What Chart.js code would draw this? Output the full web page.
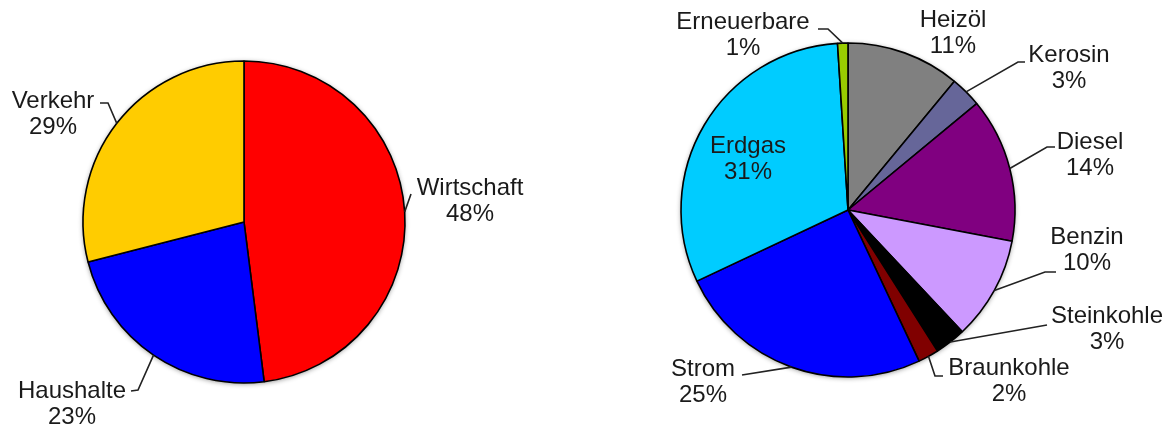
<!DOCTYPE html>
<html>
<head>
<meta charset="utf-8">
<script src="https://cdn.jsdelivr.net/npm/chart.js@4"></script>
<style>
  body { margin: 0; background: #fff; }
  canvas { position: absolute; top: 0; }
  #left { left: 0; }
  #right { left: 590px; }
</style>
</head>
<body>
<canvas id="left" width="590" height="430"></canvas>
<canvas id="right" width="585" height="430"></canvas>
<script>
// left pie: sectors
const sectors = ['Wirtschaft', 'Haushalte', 'Verkehr'];
const sectorShares = [48, 23, 29];
const sectorColors = ['#FF0000', '#0000FF', '#FFCC00'];

// right pie: energy carriers
const carriers = ['Heizöl', 'Kerosin', 'Diesel', 'Benzin', 'Steinkohle', 'Braunkohle', 'Strom', 'Erdgas', 'Erneuerbare'];
const carrierShares = [11, 3, 14, 10, 3, 2, 25, 31, 1];
const carrierColors = ['#808080', '#666699', '#800080', '#CC99FF', '#000000', '#800000', '#0000FF', '#00CCFF', '#99CC00'];

// label placement relative to the pie centre: text block centre + leader line bends
const sectorLabelPos = [
  { text: [226, -21], leader: [[167, -28]] },
  { text: [-172, 182], leader: [[-106, 168], [-113, 169]] },
  { text: [-191, -108], leader: [[-136, -119], [-144, -119]] }
];
const carrierLabelPos = [
  { text: [105, -177] },
  { text: [221, -142], leader: [[170, -148], [177, -148]] },
  { text: [242, -55], leader: [[199, -63], [207, -63]] },
  { text: [239, 40], leader: [[197, 62], [208, 62]] },
  { text: [259, 119], leader: [[199, 115]] },
  { text: [161, 171], leader: [[87, 166], [95, 166]] },
  { text: [-145, 172], leader: [[-106, 165]] },
  { text: [-100, -51] },
  { text: [-105, -175], leader: [[-20, -181], [-30, -181]] }
];

// soft shadow behind the pie, like the original
const pieShadow = {
  id: 'pieShadow',
  beforeDatasetsDraw(chart) {
    const arc = chart.getDatasetMeta(0).data[0];
    const ctx = chart.ctx;
    ctx.save();
    ctx.shadowColor = 'rgba(0,0,0,0.45)';
    ctx.shadowBlur = 5;
    ctx.shadowOffsetY = 1;
    ctx.beginPath();
    ctx.arc(arc.x, arc.y, arc.outerRadius, 0, Math.PI * 2);
    ctx.fillStyle = '#fff';
    ctx.fill();
    ctx.restore();
  }
};

const callouts = {
  id: 'callouts',
  afterDatasetsDraw(chart, args, opts) {
    const ctx = chart.ctx;
    const meta = chart.getDatasetMeta(0);
    const names = chart.data.labels;
    const values = chart.data.datasets[0].data;
    ctx.save();
    meta.data.forEach((arc, i) => {
      const p = opts.layout[i];
      const cx = arc.x, cy = arc.y;
      const mid = (arc.startAngle + arc.endAngle) / 2;
      if (p.leader) {
        ctx.beginPath();
        ctx.moveTo(cx + Math.cos(mid) * arc.outerRadius, cy + Math.sin(mid) * arc.outerRadius);
        p.leader.forEach(pt => ctx.lineTo(cx + pt[0], cy + pt[1]));
        ctx.strokeStyle = '#222';
        ctx.lineWidth = 1.6;
        ctx.stroke();
      }
      ctx.font = '24px "Liberation Sans", Arial, sans-serif';
      ctx.fillStyle = '#1a1a1a';
      ctx.textAlign = 'center';
      ctx.textBaseline = 'middle';
      const tx = cx + p.text[0], ty = cy + p.text[1];
      ctx.fillText(names[i], tx, ty - 13);
      ctx.fillText(values[i] + '%', tx, ty + 13);
    });
    ctx.restore();
  }
};

function makePie(id, labels, values, colors, radius, padding, layout) {
  return new Chart(document.getElementById(id), {
    type: 'pie',
    data: {
      labels: labels,
      datasets: [{
        data: values,
        backgroundColor: colors,
        borderColor: '#000',
        borderWidth: 1.6,
        radius: radius
      }]
    },
    options: {
      responsive: false,
      animation: false,
      layout: { padding: padding },
      plugins: {
        legend: { display: false },
        tooltip: { enabled: false },
        callouts: { layout: layout }
      }
    },
    plugins: [pieShadow, callouts]
  });
}

makePie('left', sectors, sectorShares, sectorColors, 161,
  { left: 83, right: 185, top: 61, bottom: 47 }, sectorLabelPos);
makePie('right', carriers, carrierShares, carrierColors, 167,
  { left: 88, right: 157, top: 40, bottom: 50 }, carrierLabelPos);
</script>
</body>
</html>
